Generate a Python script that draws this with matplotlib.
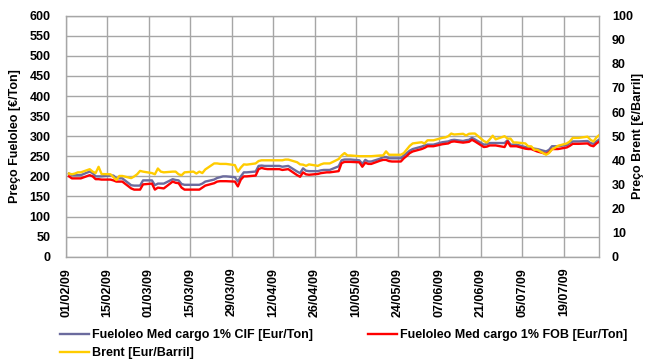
import matplotlib
matplotlib.use("Agg")
import matplotlib.pyplot as plt
import pandas as pd

# Business days, February to July 2009
dates = pd.bdate_range("2009-02-02", "2009-07-31")

cif = [
    207, 203, 203, 203, 203,
    212, 208, 200, 200, 200,
    202, 202, 195, 195, 195,
    178, 177, 177, 177, 190,
    190, 178, 182, 182, 182,
    193, 191, 190, 181, 179,
    179, 179, 179, 182, 187,
    192, 196, 198, 200, 200,
    198, 187, 200, 210, 210,
    212, 226, 227, 226, 226,
    226, 226, 224, 225, 226,
    212, 208, 220, 214, 213,
    213, 215, 216, 216, 216,
    225, 240, 242, 242, 242,
    240, 231, 241, 237, 237,
    244, 248, 248, 245, 245,
    245, 252, 258, 264, 268,
    274, 277, 279, 279, 279,
    285, 286, 287, 290, 291,
    288, 290, 291, 296, 292,
    279, 280, 283, 283, 283,
    283, 290, 279, 279, 279,
    273, 271, 271, 269, 268,
    262, 266, 275, 275, 275,
    278, 283, 287, 287, 287,
    288, 283, 281, 287, 292,
]

fob = [
    200, 195, 195, 195, 195,
    203, 200, 193, 193, 192,
    192, 190, 187, 187, 187,
    170, 167, 167, 167, 180,
    182, 167, 172, 171, 170,
    187, 184, 183, 172, 167,
    167, 167, 167, 172, 177,
    183, 187, 188, 188, 188,
    187, 175, 192, 200, 200,
    202, 218, 221, 219, 218,
    218, 218, 216, 217, 218,
    203, 199, 210, 205, 204,
    206, 208, 209, 210, 210,
    213, 233, 236, 236, 236,
    235, 224, 234, 231, 231,
    239, 241, 241, 238, 237,
    237, 245, 251, 258, 262,
    268, 271, 275, 275, 275,
    280, 281, 282, 286, 287,
    284, 285, 286, 291, 287,
    273, 274, 277, 277, 277,
    273, 287, 275, 275, 275,
    269, 268, 268, 265, 262,
    256, 260, 268, 268, 268,
    272, 276, 281, 281, 281,
    282, 277, 275, 282, 287,
]

brent = [
    34.5, 34.2, 34.5, 35.0, 35.0,
    36.3, 35.3, 34.7, 37.3, 34.3,
    34.2, 33.0, 31.8, 33.5, 33.5,
    32.6, 33.3, 34.2, 35.6, 35.3,
    34.7, 34.2, 36.6, 35.3, 35.0,
    35.3, 35.3, 34.2, 33.8, 35.0,
    35.3, 34.5, 35.3, 34.7, 36.2,
    38.7, 38.7, 38.5, 38.5, 38.5,
    38.0, 35.3, 37.0, 38.3, 38.2,
    38.7, 39.7, 40.0, 40.0, 40.0,
    40.0, 40.0, 40.0, 40.3, 40.3,
    39.2, 38.3, 38.2, 37.7, 38.3,
    37.7, 38.3, 38.7, 38.7, 38.7,
    40.5, 42.0, 43.0, 42.0, 42.0,
    41.7, 41.7, 41.7, 41.7, 41.7,
    42.0, 42.0, 43.7, 42.3, 42.3,
    42.3, 43.0, 44.5, 46.0, 47.0,
    47.5, 47.0, 48.3, 48.3, 48.3,
    49.3, 49.5, 50.0, 51.1, 50.7,
    51.0, 50.3, 51.0, 51.1, 51.1,
    48.0, 47.4, 48.7, 50.2, 48.7,
    50.0, 49.0, 49.0, 47.4, 47.4,
    47.0, 45.8, 45.8, 44.4, 44.4,
    42.3, 43.0, 44.5, 45.2, 46.0,
    47.0, 47.8, 49.3, 49.3, 49.3,
    49.8, 48.5, 47.8, 49.5, 50.5,
]

tick_dates = pd.date_range("2009-02-01", "2009-07-19", freq="14D")
tick_labels = [d.strftime("%d/%m/%y") for d in tick_dates]

label_cif = "Fueloleo Med cargo 1% CIF [Eur/Ton]"
label_fob = "Fueloleo Med cargo 1% FOB [Eur/Ton]"
label_brent = "Brent [Eur/Barril]"

plt.rcParams["font.family"] = ["Liberation Sans", "DejaVu Sans"]
plt.rcParams["font.weight"] = "bold"

fig = plt.figure(figsize=(6.46, 3.61), dpi=100)
ax = fig.add_axes([66 / 646, 1 - 256.7 / 361, (599.4 - 66) / 646, (256.7 - 15.7) / 361])

grid_c = "#a6a6a6"
line_cif, = ax.plot(dates, cif, color="#6b6b9e", lw=1.7, label=label_cif, zorder=3)
line_fob, = ax.plot(dates, fob, color="#ff0000", lw=1.7, label=label_fob, zorder=3)

ax.set_xlim(pd.Timestamp("2009-02-01"), pd.Timestamp("2009-07-31"))
ax.set_ylim(0, 600)
ax.set_yticks(range(0, 601, 50))
ax.set_xticks(tick_dates)
ax.set_xticklabels(tick_labels, rotation=90, fontsize=9, fontweight="bold")
ax.tick_params(axis="both", length=0, labelsize=9)
ax.tick_params(axis="y", pad=11)
ax.tick_params(axis="x", pad=8)
ax.grid(True, color=grid_c, lw=1.0)
ax.set_axisbelow(True)
for s in ax.spines.values():
    s.set_color(grid_c)
    s.set_linewidth(1.0)
ax.set_ylabel("Preço Fueloleo [€/Ton]", fontsize=9, fontweight="bold", labelpad=6)

ax2 = ax.twinx()
line_brent, = ax2.plot(dates, brent, color="#ffcc00", lw=1.7, label=label_brent, zorder=4)
ax2.set_ylim(0, 100)
ax2.set_yticks(range(0, 101, 10))
ax2.tick_params(axis="y", length=0, labelsize=9, pad=9)
for s in ax2.spines.values():
    s.set_visible(False)
ax2.set_ylabel("Preço Brent [€/Barril]", fontsize=9, fontweight="bold", labelpad=-1)

# column-major fill: CIF / Brent in the first column, FOB in the second
handles = [line_cif, line_brent, line_fob]
fig.legend(handles, [h.get_label() for h in handles], ncol=2, loc="upper left",
           bbox_to_anchor=(60 / 646, 1 - 329 / 361), frameon=False, fontsize=9,
           handlelength=2.3, handletextpad=0.25, columnspacing=4.4, labelspacing=0.5,
           borderaxespad=0, borderpad=0)

fig.savefig("out.png", dpi=100)
